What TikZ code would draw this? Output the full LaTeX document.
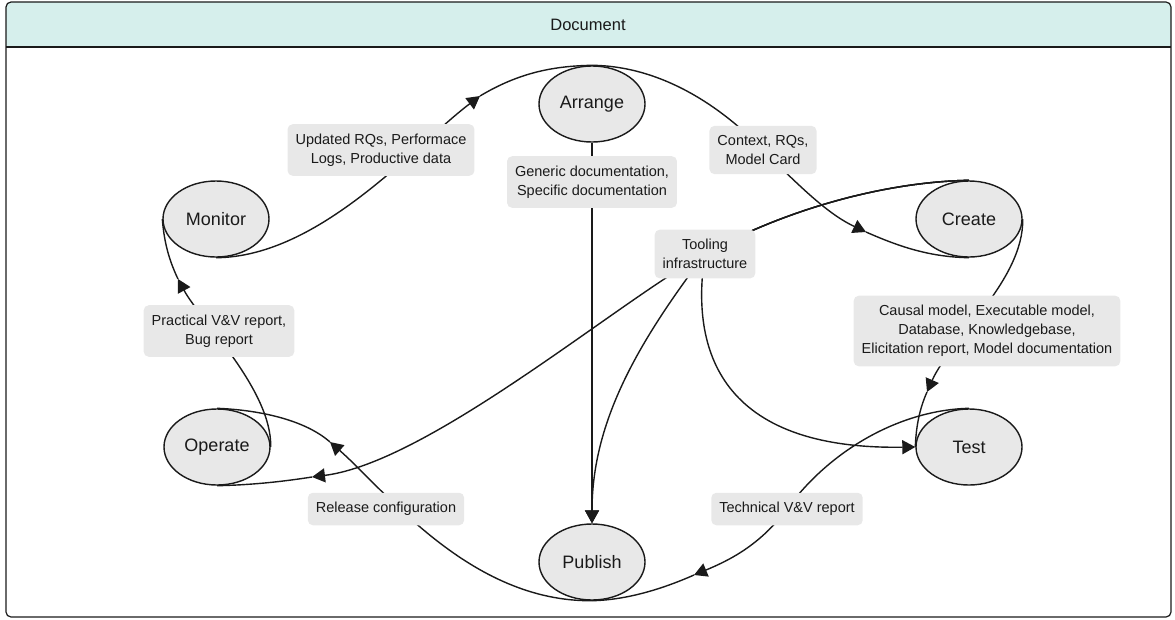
\documentclass[tikz,border=0pt]{standalone}
\usepackage{fontspec}
\setmainfont{Liberation Sans}
\usetikzlibrary{shapes.geometric,arrows.meta,backgrounds}
\definecolor{hdr}{HTML}{D6EFEC}
\definecolor{boxfill}{HTML}{E8E8E8}
\definecolor{ink}{HTML}{1A1A1A}
\begin{document}
\begin{tikzpicture}[x=1pt,y=-1pt,
  phase/.style={ellipse, draw=ink, line width=1.4pt, fill=boxfill, minimum width=106pt, minimum height=76pt, inner sep=0pt, font=\fontsize{18}{22}\selectfont, text=ink},
  elabel/.style={fill=boxfill, rounded corners=5pt, align=center, inner xsep=8pt, inner ysep=9.5pt, font=\fontsize{14.5}{19}\selectfont, text=ink},
  conn/.style={draw=ink, line width=1.4pt},
  tip/.style={conn, -{Triangle[length=13pt,width=14pt]}},
]
\useasboundingbox (0,0) rectangle (1175,619);
% frame and header
\fill[hdr] (6,47) [rounded corners=5pt] -- (6,2) -- (1171,2) -- (1171,24) [sharp corners] -- (1171,47) -- cycle;
\draw[ink, line width=1.2pt, rounded corners=5pt] (6,2) rectangle (1171,617);
\draw[ink, line width=1.2pt] (6,47) -- (1171,47);
\node[font=\fontsize{16.5}{19}\selectfont, text=ink] (title) at (588,25) {Document};

% phases
\node[phase] (arrange) at (592,104) {Arrange};
\node[phase] (monitor) at (216,219) {Monitor};
\node[phase] (create) at (969,219) {Create};
\node[phase] (operate) at (217,447) {Operate};
\node[phase] (test) at (969,447) {Test};
\node[phase] (publish) at (592,562) {Publish};

% edge labels
\node[elabel] (l1) at (381,150) {Updated RQs, Performace\\Logs, Productive data};
\node[elabel] (l2) at (592,182) {Generic documentation,\\Specific documentation};
\node[elabel] (l3) at (763,150) {Context, RQs,\\Model Card};
\node[elabel] (l4) at (705,254) {Tooling\\infrastructure};
\node[elabel] (l5) at (987,331) {Causal model, Executable model,\\Database, Knowledgebase,\\Elicitation report, Model documentation};
\node[elabel] (l6) at (219,331) {Practical V\&V report,\\Bug report};
\node[elabel] (l7) at (386,509) {Release configuration};
\node[elabel] (l8) at (787,509) {Technical V\&V report};

% arrow points
\coordinate (a1) at (480,96);
\coordinate (a2) at (866,232);
\coordinate (a3) at (927,392);
\coordinate (a4) at (694,575);
\coordinate (a5) at (330,442);
\coordinate (a6) at (178,279);
\coordinate (a7) at (312,477);

\begin{scope}[on background layer]
% Monitor -> Arrange
\draw[tip] (monitor.south) .. controls (320,257) and (415,145) .. (a1);
\draw[conn] (a1) .. controls (520,72) and (555,66) .. (arrange.north);
% Arrange -> Create
\draw[tip] (arrange.north) .. controls (660,66) and (720,105) .. (l3.center) .. controls (805,192) and (830,215) .. (a2);
\draw[conn] (a2) .. controls (900,247) and (930,257) .. (create.south);
% Create -> Test
\draw[tip] (create.east) .. controls (1024,280) and (950,340) .. (a3);
\draw[conn] (a3) .. controls (919,410) and (916,428) .. (test.west);
% Test -> Publish
\draw[tip] (test.north) .. controls (900,410) and (830,450) .. (l8.center) .. controls (760,545) and (730,560) .. (a4);
\draw[conn] (a4) .. controls (660,590) and (625,600) .. (publish.south);
% Publish -> Operate
\draw[tip] (publish.south) .. controls (470,602) and (385,490) .. (a5);
\draw[conn] (a5) .. controls (305,420) and (260,410) .. (operate.north);
% Operate -> Monitor
\draw[tip] (operate.east) .. controls (272,390) and (200,320) .. (a6);
\draw[conn] (a6) .. controls (168,258) and (164,240) .. (monitor.west);
% Arrange -> Publish
\draw[tip] (arrange.south) -- (publish.north);
% Create -> Operate / Publish / Test (Tooling infrastructure)
\draw[tip] (create.north) .. controls (880,182) and (780,212) .. (l4.center) .. controls (620,300) and (430,462) .. (a7);
\draw[conn] (a7) .. controls (280,482) and (250,485) .. (operate.south);
\draw[tip] (create.north) .. controls (880,182) and (780,212) .. (l4.center) .. controls (640,340) and (592,420) .. (publish.north);
\draw[tip] (create.north) .. controls (880,182) and (780,212) .. (l4.center) .. controls (690,350) and (720,450) .. (test.west);
\end{scope}
\end{tikzpicture}
\end{document}
